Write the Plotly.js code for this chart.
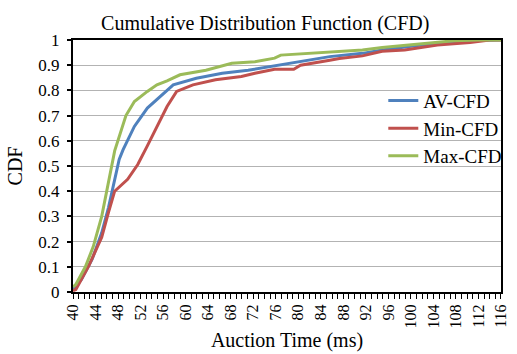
<!DOCTYPE html>
<html>
<head>
<meta charset="utf-8">
<script src="https://cdn.plot.ly/plotly-3.0.1.min.js"></script>
<style>
html,body{margin:0;padding:0;background:#fff;}
#chart{width:517px;height:354px;}
</style>
</head>
<body>
<div id="chart"></div>
<script>
const avX = [40, 41.5, 43.4, 45.1, 46.3, 47.4, 48.2, 48.9, 50.9, 53.2, 54.9, 56.7, 57.8, 61.9, 66.5, 71.1, 75.8, 79.8, 85.6, 91.4, 94.9, 100, 105, 110, 116];
const avY = [0.01, 0.05, 0.13, 0.235, 0.335, 0.447, 0.526, 0.565, 0.657, 0.73, 0.763, 0.80, 0.822, 0.848, 0.868, 0.88, 0.897, 0.914, 0.934, 0.947, 0.96, 0.975, 0.988, 0.997, 1.0];

const minX = [40, 40.5, 42.8, 45.1, 46.3, 47.4, 49.7, 51.5, 53.2, 54.9, 56.7, 58.4, 61.3, 65.3, 69.9, 72.3, 75.8, 79.2, 80.4, 85.6, 87.3, 91.4, 94.9, 98.9, 104.7, 110.5, 114, 116];
const minY = [0.005, 0.01, 0.104, 0.217, 0.316, 0.40, 0.447, 0.506, 0.58, 0.657, 0.736, 0.796, 0.822, 0.842, 0.855, 0.868, 0.884, 0.884, 0.90, 0.92, 0.927, 0.937, 0.955, 0.96, 0.98, 0.99, 1.0, 1.0];

const maxX = [40, 40.5, 42.2, 43.6, 45.1, 46.3, 47.4, 49.4, 50.9, 53.2, 54.9, 56.7, 59, 63.6, 68.2, 72.3, 75.8, 76.9, 84.4, 91.4, 94.9, 101.8, 107.6, 112, 116];
const maxY = [0.02, 0.03, 0.10, 0.18, 0.30, 0.43, 0.56, 0.70, 0.756, 0.796, 0.822, 0.838, 0.862, 0.88, 0.908, 0.914, 0.928, 0.94, 0.95, 0.96, 0.97, 0.984, 0.997, 1.0, 1.0];

const seriesNames = ["AV-CFD", "Min-CFD", "Max-CFD"];
const seriesColors = ["#4F81BD", "#C0504D", "#9BBB59"];
const xTickVals = [40, 44, 48, 52, 56, 60, 64, 68, 72, 76, 80, 84, 88, 92, 96, 100, 104, 108, 112, 116];

const font = "Liberation Serif";

const traces = [
  {x: avX, y: avY, name: seriesNames[0], type: "scatter", mode: "lines", line: {color: seriesColors[0], width: 3}},
  {x: minX, y: minY, name: seriesNames[1], type: "scatter", mode: "lines", line: {color: seriesColors[1], width: 3}},
  {x: maxX, y: maxY, name: seriesNames[2], type: "scatter", mode: "lines", line: {color: seriesColors[2], width: 3}}
];

const layout = {
  width: 517, height: 354,
  margin: {l: 73, r: 10, t: 40, b: 62},
  paper_bgcolor: "#fff", plot_bgcolor: "#fff",
  font: {family: font, color: "#000", size: 16},
  title: {text: "Cumulative Distribution Function (CFD)", font: {family: font, size: 20, color: "#000"}, x: 0.513, xanchor: "center", y: 0.935, yanchor: "middle"},
  showlegend: true,
  legend: {x: 0.725, y: 0.835, xanchor: "left", yanchor: "top", bgcolor: "rgba(0,0,0,0)", font: {family: font, size: 19}, tracegroupgap: 0},
  xaxis: {
    range: [40, 116.001], tickmode: "array", tickvals: xTickVals, ticktext: xTickVals.map(String), tickangle: -90,
    ticks: "outside", ticklen: 4, tickwidth: 1, tickcolor: "#000", ticklabeloverflow: "allow",
    minor: {dtick: 1, tick0: 40, ticks: "outside", ticklen: 5, tickwidth: 1, tickcolor: "#000", showgrid: false},
    showgrid: false, zeroline: false,
    showline: true, linecolor: "#000", linewidth: 2, mirror: true,
    tickfont: {family: font, size: 16},
    title: {text: "Auction Time (ms)", font: {family: font, size: 20}, standoff: 6}
  },
  yaxis: {
    range: [0, 1], dtick: 0.1, tick0: 0,
    ticks: "outside", ticklen: 4, tickwidth: 2, tickcolor: "#000", ticklabelstandoff: 4,
    showgrid: true, gridcolor: "#b3b3b3", gridwidth: 1, zeroline: false,
    showline: true, linecolor: "#000", linewidth: 2, mirror: true,
    tickfont: {family: font, size: 17},
    title: {text: "CDF", font: {family: font, size: 20}, standoff: 10}
  }
};

Plotly.newPlot("chart", traces, layout, {displayModeBar: false, staticPlot: true});
</script>
</body>
</html>
